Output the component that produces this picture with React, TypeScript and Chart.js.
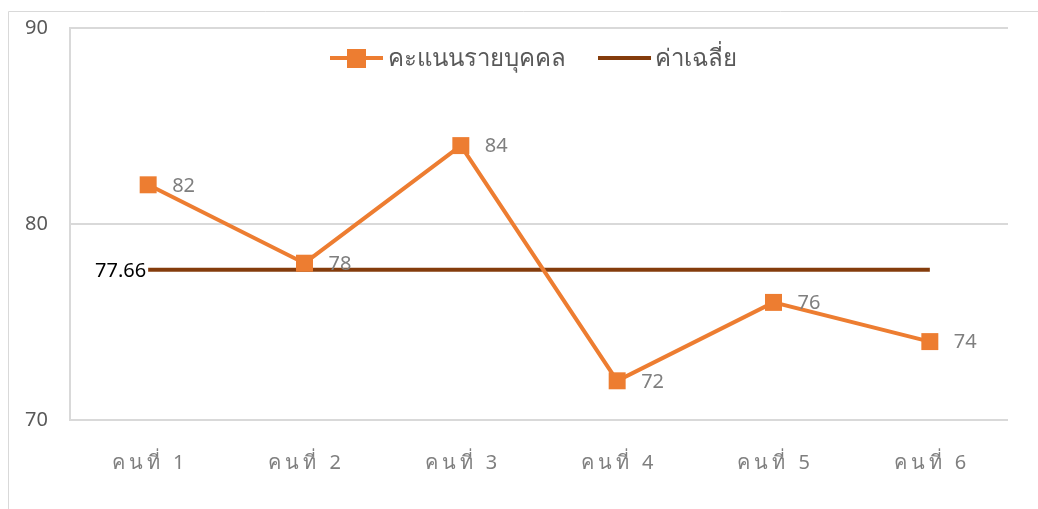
import React, { useEffect, useRef } from "react";
import { Chart, registerables } from "chart.js";

Chart.register(...registerables);

const categories = ["คนที่ 1", "คนที่ 2", "คนที่ 3", "คนที่ 4", "คนที่ 5", "คนที่ 6"];
const scores = [82, 78, 84, 72, 76, 74];
const meanValue = 77.66;
const meanSeries = categories.map(() => meanValue);
const seriesNames = ["คะแนนรายบุคคล", "ค่าเฉลี่ย"];
const yTicks = [70, 80, 90];

const ORANGE = "#ed7d31";
const BROWN = "#843c0c";
const GRID = "#d9d9d9";
const FONT = "Tahoma, 'Leelawadee UI', 'Noto Sans', 'DejaVu Sans', sans-serif";

const overlayPlugin = {
  id: "overlay",
  afterDraw(chart: any) {
    const ctx = chart.ctx as CanvasRenderingContext2D;
    ctx.save();
    // outer frame
    ctx.strokeStyle = GRID;
    ctx.lineWidth = 1;
    ctx.beginPath();
    ctx.moveTo(8.5, chart.height);
    ctx.lineTo(8.5, 11.5);
    ctx.lineTo(chart.width, 11.5);
    ctx.stroke();

    // y tick labels
    const ys = chart.scales.y;
    ctx.font = "20px " + FONT;
    ctx.fillStyle = "#595959";
    ctx.textAlign = "right";
    ctx.textBaseline = "middle";
    yTicks.forEach((v) => {
      ctx.fillText(String(v), 48, ys.getPixelForValue(v));
    });

    // x category labels (letter-spaced)
    const xs = chart.scales.x;
    ctx.font = "20px " + FONT;
    ctx.fillStyle = "#7f7f7f";
    ctx.textAlign = "center";
    ctx.textBaseline = "alphabetic";
    (ctx as any).letterSpacing = "4px";
    categories.forEach((c, i) => {
      ctx.fillText(c, xs.getPixelForValue(i) + 2, 469);
    });
    (ctx as any).letterSpacing = "0px";

    // data labels
    const meta = chart.getDatasetMeta(0);
    ctx.font = "20px " + FONT;
    ctx.fillStyle = "#7f7f7f";
    ctx.textAlign = "left";
    ctx.textBaseline = "middle";
    meta.data.forEach((pt: any, i: number) => {
      ctx.fillText(String(scores[i]), pt.x + 24, pt.y + 1);
    });

    // mean label
    const meta1 = chart.getDatasetMeta(1);
    const p0 = meta1.data[0];
    ctx.fillStyle = "#000000";
    ctx.textAlign = "right";
    ctx.fillText(String(meanValue), p0.x - 2, p0.y + 1);

    // legend
    const ly = 58;
    ctx.lineWidth = 4;
    ctx.strokeStyle = ORANGE;
    ctx.beginPath();
    ctx.moveTo(330, ly);
    ctx.lineTo(383, ly);
    ctx.stroke();
    ctx.fillStyle = ORANGE;
    ctx.fillRect(347, ly - 9, 19, 19);
    ctx.strokeStyle = BROWN;
    ctx.beginPath();
    ctx.moveTo(598, ly);
    ctx.lineTo(651, ly);
    ctx.stroke();
    ctx.font = "24px " + FONT;
    ctx.fillStyle = "#595959";
    ctx.textAlign = "left";
    ctx.fillText(seriesNames[0], 388, ly + 1);
    ctx.fillText(seriesNames[1], 655, ly + 1);
    ctx.restore();
  },
};

export default function App() {
  const ref = useRef<HTMLCanvasElement | null>(null);
  useEffect(() => {
    document.body.style.margin = "0";
    const chart = new Chart(ref.current as HTMLCanvasElement, {
      type: "line",
      data: {
        labels: categories,
        datasets: [
          {
            label: seriesNames[0],
            data: scores,
            borderColor: ORANGE,
            backgroundColor: ORANGE,
            borderWidth: 4,
            pointStyle: "rect",
            pointRadius: 12,
            pointHoverRadius: 12,
            pointBorderWidth: 0,
            tension: 0,
          },
          {
            label: seriesNames[1],
            data: meanSeries,
            borderColor: BROWN,
            backgroundColor: BROWN,
            borderWidth: 4,
            pointRadius: 0,
            tension: 0,
          },
        ],
      },
      options: {
        responsive: false,
        animation: false,
        layout: { padding: { left: 0, top: 28, right: 30, bottom: 0 } },
        plugins: { legend: { display: false }, tooltip: { enabled: false } },
        scales: {
          x: {
            offset: true,
            grid: { display: false, drawTicks: false },
            border: { display: false },
            ticks: { display: false },
            afterFit: (s: any) => {
              s.height = 89;
            },
          },
          y: {
            min: 70,
            max: 90,
            afterBuildTicks: (s: any) => {
              s.ticks = yTicks.map((v) => ({ value: v }));
            },
            grid: { color: GRID, lineWidth: 2, drawTicks: false },
            border: { display: true, color: GRID, width: 2 },
            ticks: { display: false },
            afterFit: (s: any) => {
              s.width = 70;
            },
          },
        },
      },
      plugins: [overlayPlugin],
    });
    return () => chart.destroy();
  }, []);
  return (
    <div style={{ position: "absolute", left: 0, top: 0, width: 1038, height: 509 }}>
      <canvas ref={ref} width={1038} height={509} style={{ width: 1038, height: 509 }} />
    </div>
  );
}
